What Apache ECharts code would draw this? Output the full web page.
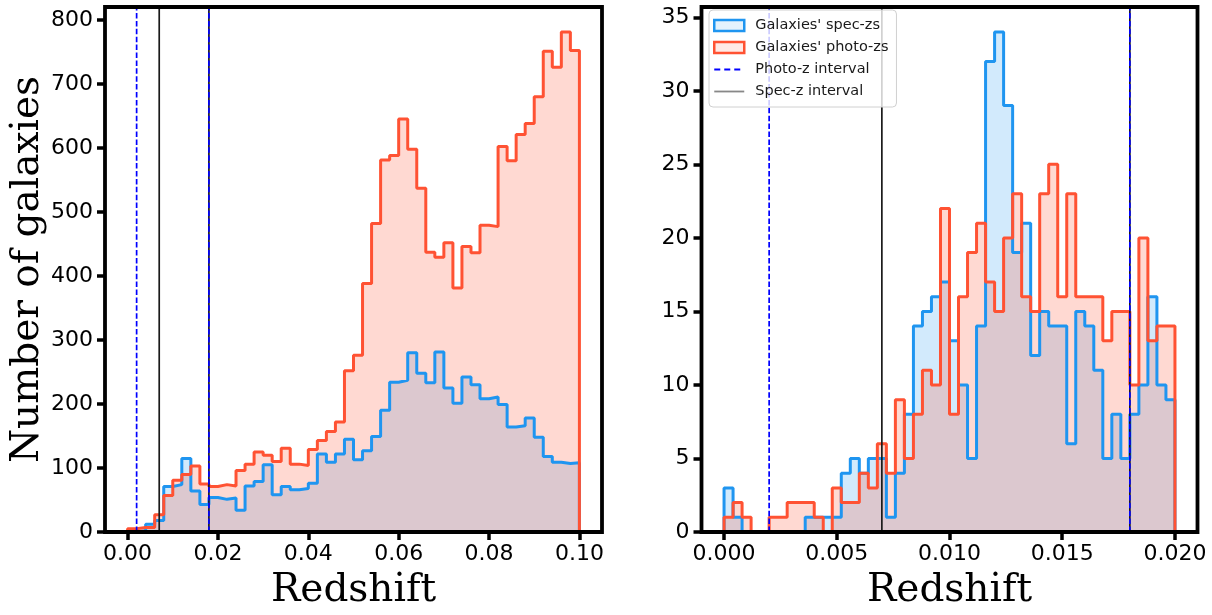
<!DOCTYPE html>
<html>
<head>
<meta charset="utf-8">
<script src="https://cdn.jsdelivr.net/npm/echarts@6/dist/echarts.min.js"></script>
<style>
  html, body { margin: 0; padding: 0; background: #ffffff; }
  #chart { width: 1212px; height: 615px; }
</style>
</head>
<body>
<div id="chart"></div>
<script>
// Histogram bins: 50 equal bins on each panel
const leftBinStart = 0.0;
const leftBinWidth = 0.002;
const rightBinStart = 0.0;
const rightBinWidth = 0.0004;

// Counts per bin, full redshift range (0 - 0.1)
const leftSpec = [0, 2, 12, 18, 71, 74, 115, 64, 43, 54,
                  51, 53, 34, 72, 79, 105, 58, 71, 66, 68,
                  76, 122, 109, 122, 145, 113, 127, 149, 190, 234,
                  237, 280, 248, 233, 281, 225, 201, 242, 230, 208,
                  211, 199, 164, 166, 178, 148, 118, 109, 107, 108];
const leftPhoto = [5, 7, 7, 27, 57, 81, 90, 103, 75, 71,
                   74, 72, 96, 106, 125, 120, 110, 131, 106, 104,
                   129, 143, 157, 172, 252, 276, 388, 482, 581, 588,
                   645, 598, 537, 437, 429, 452, 381, 446, 436, 479,
                   477, 602, 580, 621, 638, 680, 751, 726, 781, 752];

// Counts per bin, low-redshift range (0 - 0.02)
const rightSpec = [3, 1, 0, 0, 0, 0, 0, 0, 0, 1,
                   1, 1, 1, 4, 5, 4, 5, 5, 1, 4,
                   8, 14, 15, 16, 17, 13, 10, 5, 14, 32,
                   34, 29, 19, 21, 12, 15, 14, 14, 6, 15,
                   14, 11, 5, 8, 5, 8, 10, 16, 10, 9];
const rightPhoto = [1, 2, 1, 0, 0, 1, 1, 2, 2, 2,
                    1, 0, 3, 2, 2, 4, 3, 6, 4, 9,
                    5, 8, 11, 10, 22, 8, 16, 19, 21, 17,
                    15, 20, 23, 16, 15, 23, 25, 16, 23, 16,
                    16, 16, 13, 15, 15, 10, 20, 13, 14, 14];

// Redshift intervals marked by vertical lines
const photoZInterval = [0.002, 0.018];
const specZInterval = [0.007, 0.018];

// Tick positions
const leftXTicks = [0, 0.02, 0.04, 0.06, 0.08, 0.10];
const leftYTicks = [0, 100, 200, 300, 400, 500, 600, 700, 800];
const rightXTicks = [0, 0.005, 0.010, 0.015, 0.020];
const rightYTicks = [0, 5, 10, 15, 20, 25, 30, 35];

const SPEC = "Galaxies' spec-zs";
const PHOTO = "Galaxies' photo-zs";
const PHOTO_INT = 'Photo-z interval';
const SPEC_INT = 'Spec-z interval';

const blue = '#1f95f0';
const red = '#ff5233';
const blueFill = 'rgba(31,149,240,0.2)';
const redFill = 'rgba(255,82,50,0.22)';
const lineBlue = '#0000ff';
const lineBlack = '#1a1a1a';
const dash = [5.5, 2.4];

// Outline of a filled step histogram: rises from zero at the first edge,
// steps across each bin, and drops back to zero at the last edge.
function stepOutline(counts, start, width) {
  const pts = [[start, 0]];
  counts.forEach((c, i) => {
    pts.push([+(start + i * width).toFixed(6), c]);
  });
  const end = +(start + counts.length * width).toFixed(6);
  pts.push([end, counts[counts.length - 1]]);
  pts.push([end, 0]);
  return pts;
}

const leftYMax = Math.max(...leftSpec, ...leftPhoto) * 1.05;
const rightYMax = Math.max(...rightSpec, ...rightPhoto) * 1.05;
const leftXRange = [leftBinStart, leftBinStart + leftSpec.length * leftBinWidth];
const rightXRange = [rightBinStart, rightBinStart + rightSpec.length * rightBinWidth];
const leftPad = (leftXRange[1] - leftXRange[0]) * 0.05;
const rightPad = (rightXRange[1] - rightXRange[0]) * 0.05;

const tickFont = { fontFamily: 'DejaVu Sans', fontSize: 22, color: '#000' };
const nameFont = { fontFamily: 'DejaVu Serif', fontSize: 39, color: '#000' };

function histSeries(name, counts, start, width, idx, stroke, fill) {
  return {
    name: name,
    type: 'line',
    xAxisIndex: idx,
    yAxisIndex: idx,
    step: 'end',
    symbol: 'none',
    silent: true,
    animation: false,
    data: stepOutline(counts, start, width),
    lineStyle: { color: stroke, width: 3 },
    itemStyle: { color: stroke },
    areaStyle: { color: fill, opacity: 1 },
    z: 2
  };
}

function vLine(name, x, yMax, idx, color, type) {
  return {
    name: name,
    type: 'line',
    xAxisIndex: idx,
    yAxisIndex: idx,
    symbol: 'none',
    silent: true,
    animation: false,
    data: [[x, 0], [x, yMax]],
    lineStyle: { color: color, width: 1.7, type: type },
    itemStyle: { color: color },
    z: 3
  };
}

function xAxis(idx, range, pad, ticks, digits) {
  return {
    type: 'value',
    gridIndex: idx,
    position: 'bottom',
    min: range[0] - pad,
    max: range[1] + pad,
    name: 'Redshift',
    nameLocation: 'middle',
    nameGap: 39,
    nameTextStyle: nameFont,
    axisLine: { show: false, onZero: false },
    splitLine: { show: false },
    axisTick: {
      show: true, inside: false, length: 8,
      customValues: ticks,
      lineStyle: { color: '#000', width: 3.5 }
    },
    axisLabel: Object.assign({
      customValues: ticks,
      margin: 11,
      formatter: v => v.toFixed(digits)
    }, tickFont)
  };
}

function yAxis(idx, yMax, ticks, name) {
  const ax = {
    type: 'value',
    gridIndex: idx,
    position: 'left',
    min: 0,
    max: yMax,
    axisLine: { show: false, onZero: false },
    splitLine: { show: false },
    axisTick: {
      show: true, inside: false, length: 8,
      customValues: ticks,
      lineStyle: { color: '#000', width: 3.5 }
    },
    axisLabel: Object.assign({ customValues: ticks, margin: 12 }, tickFont)
  };
  if (name) {
    ax.name = name;
    ax.nameLocation = 'middle';
    ax.nameGap = 58;
    ax.nameTextStyle = nameFont;
  }
  return ax;
}

const gridStyle = {
  show: true, z: 5,
  backgroundColor: 'transparent',
  borderColor: '#000',
  borderWidth: 3.8
};

const option = {
  animation: false,
  backgroundColor: '#ffffff',
  grid: [
    Object.assign({ left: 105, top: 7, width: 497, height: 531 }, gridStyle),
    Object.assign({ left: 701.5, top: 7, width: 496, height: 531 }, gridStyle)
  ],
  xAxis: [
    xAxis(0, leftXRange, leftPad, leftXTicks, 2),
    xAxis(1, rightXRange, rightPad, rightXTicks, 3)
  ],
  yAxis: [
    yAxis(0, leftYMax, leftYTicks, 'Number of galaxies'),
    yAxis(1, rightYMax, rightYTicks, null)
  ],
  legend: {
    orient: 'vertical',
    left: 709,
    top: 10,
    padding: [8, 8, 8, 4],
    itemWidth: 30,
    itemHeight: 11,
    itemGap: 7,
    backgroundColor: 'rgba(255,255,255,0.8)',
    borderColor: '#d0d0d0',
    borderWidth: 1,
    borderRadius: 4,
    selectedMode: false,
    textStyle: { fontFamily: 'DejaVu Sans', fontSize: 14.5, color: '#1a1a1a', padding: [0, 0, 0, 6] },
    data: [
      { name: SPEC, icon: 'rect', itemStyle: { color: 'rgba(31,149,240,0.12)', borderColor: blue, borderWidth: 2.5 } },
      { name: PHOTO, icon: 'rect', itemStyle: { color: 'rgba(255,82,50,0.12)', borderColor: red, borderWidth: 2.5 } },
      { name: PHOTO_INT, itemStyle: { opacity: 0 }, lineStyle: { color: lineBlue, width: 1.8, type: [6, 4] } },
      { name: SPEC_INT, itemStyle: { opacity: 0 }, lineStyle: { color: '#888888', width: 1.8 } }
    ]
  },
  series: [
    histSeries(SPEC, leftSpec, leftBinStart, leftBinWidth, 0, blue, blueFill),
    histSeries(PHOTO, leftPhoto, leftBinStart, leftBinWidth, 0, red, redFill),
    histSeries(SPEC, rightSpec, rightBinStart, rightBinWidth, 1, blue, blueFill),
    histSeries(PHOTO, rightPhoto, rightBinStart, rightBinWidth, 1, red, redFill),

    vLine(SPEC_INT, specZInterval[0], leftYMax, 0, lineBlack, 'solid'),
    vLine(SPEC_INT, specZInterval[1], leftYMax, 0, lineBlack, 'solid'),
    vLine(PHOTO_INT, photoZInterval[0], leftYMax, 0, lineBlue, dash),
    vLine(PHOTO_INT, photoZInterval[1], leftYMax, 0, lineBlue, dash),

    vLine(SPEC_INT, specZInterval[0], rightYMax, 1, lineBlack, 'solid'),
    vLine(SPEC_INT, specZInterval[1], rightYMax, 1, lineBlack, 'solid'),
    vLine(PHOTO_INT, photoZInterval[0], rightYMax, 1, lineBlue, dash),
    vLine(PHOTO_INT, photoZInterval[1], rightYMax, 1, lineBlue, dash)
  ]
};

const chart = echarts.init(document.getElementById('chart'), null, { renderer: 'canvas' });
chart.setOption(option);
</script>
</body>
</html>
